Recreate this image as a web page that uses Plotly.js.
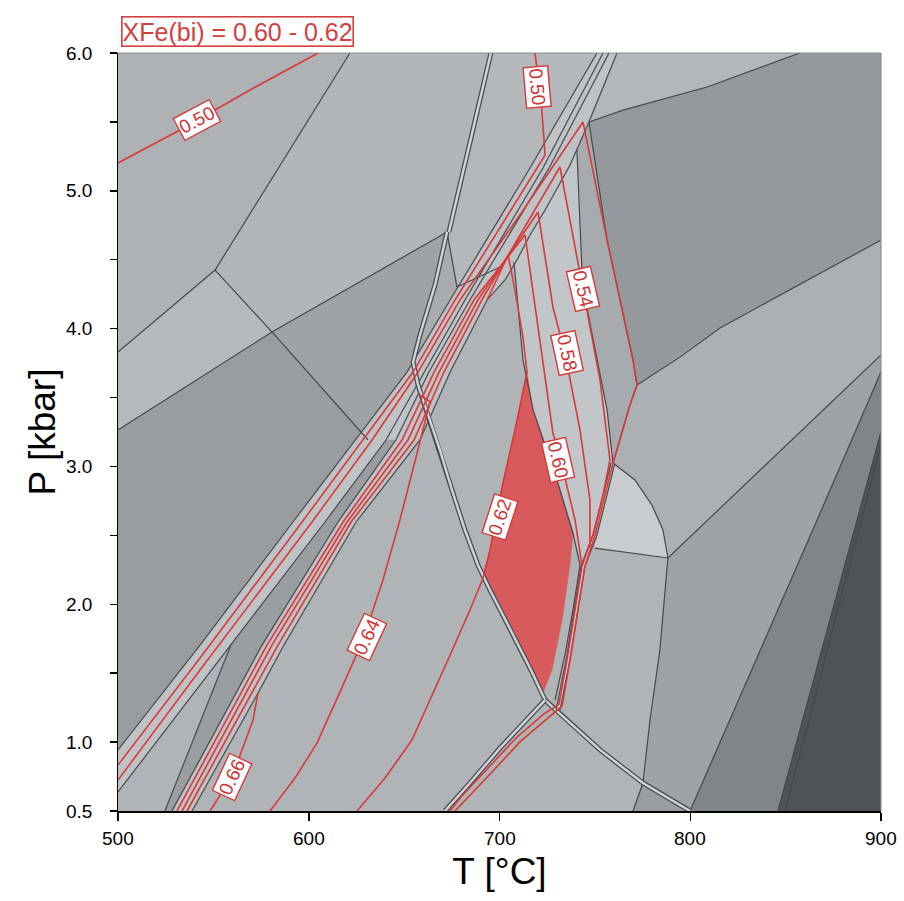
<!DOCTYPE html>
<html><head><meta charset="utf-8">
<script src="https://cdn.plot.ly/plotly-3.0.1.min.js"></script>
<style>html,body{margin:0;padding:0;background:#fff}#chart{width:904px;height:901px}</style>
</head><body><div id="chart"></div>
<script>
// ---------- field polygons (T in °C, P in kbar) ----------
const T_topLeft = [500, 621.6, 550.9, 500];            const P_topLeft = [6.0, 6.0, 4.425, 3.830];
const T_leftMid = [500, 550.9, 580.7, 500];            const P_leftMid = [3.830, 4.425, 3.976, 3.264];
const T_upperMid = [621.6, 695.5, 672.5, 580.7, 550.9]; const P_upperMid = [6, 6, 4.701, 3.976, 4.425];
const T_darkTri = [580.7, 672.5, 666.2, 658.3, 654.7, 651.5, 627.4]; const P_darkTri = [3.976, 4.701, 4.317, 3.954, 3.758, 3.685, 3.250];
const T_darkLeft = [500, 580.7, 627.4, 624.2, 591.7, 543.0, 500]; const P_darkLeft = [3.264, 3.976, 3.250, 3.192, 2.597, 1.704, 0.943];
const T_smallTri = [672.5, 678.3, 674.1, 654.7, 658.3, 666.2]; const P_smallTri = [4.701, 4.302, 4.208, 3.758, 3.954, 4.317];
const T_topMidRight = [695.5, 751.1, 716.0, 678.3, 672.5]; const P_topMidRight = [6, 6, 5.166, 4.302, 4.701];
const T_topRight = [761.6, 857.5, 808.8, 764.8, 746.9]; const P_topRight = [6, 6, 5.753, 5.586, 5.499];
const T_darkRight = [746.9, 764.8, 808.8, 857.5, 900, 900, 815.6, 794.6, 772.1, 770.0, 756.4];
const P_darkRight = [5.499, 5.586, 5.753, 6, 6, 4.643, 4.005, 3.794, 3.591, 3.772, 4.643];
const T_medStrip = [746.9, 756.4, 770.0, 772.1, 768.4, 759.5, 756.4, 746.4, 743.3, 740.6];
const P_medStrip = [5.499, 4.643, 3.772, 3.591, 3.446, 3.025, 3.410, 4.113, 4.389, 5.296];
const T_lightStrip = [740.6, 743.3, 746.4, 756.4, 759.5, 752.7, 743.8, 738.5, 730.1, 717.6, 712.3, 707.6, 716.0, 723.9, 737.0];
const P_lightStrip = [5.296, 4.389, 4.113, 3.410, 3.025, 2.684, 2.278, 2.517, 2.902, 3.410, 3.772, 4.484, 4.679, 4.861, 5.187];
const T_rightMid = [772.1, 815.6, 900, 900, 788.3, 785.7, 779.9, 771.0, 759.5, 768.4];
const P_rightMid = [3.591, 4.005, 4.643, 3.809, 2.336, 2.539, 2.720, 2.902, 3.025, 3.446];
const T_lightBlob = [759.5, 771.0, 779.9, 785.7, 788.3, 750.1, 752.7]; const P_lightBlob = [3.025, 2.902, 2.720, 2.539, 2.336, 2.408, 2.684];
const T_rightLower = [900, 788.3, 784.1, 778.9, 775.2, 799.9, 866.5, 900]; const P_rightLower = [3.809, 2.336, 1.668, 1.160, 0.703, 0.5, 2.611, 3.685];
const T_dark2 = [900, 866.5, 799.9, 846.0, 900]; const P_dark2 = [3.685, 2.611, 0.5, 0.5, 3.250];
const T_darkest = [900, 846.0, 900]; const P_darkest = [3.250, 0.5, 0.5];
const T_bottomSmall = [775.2, 799.9, 770.0]; const P_bottomSmall = [0.703, 0.5, 0.5];
const T_lightTri = [500, 559.2, 524.6, 500]; const P_lightTri = [0.638, 1.704, 0.5, 0.5];
// red field XFe(bi) = 0.60 - 0.62
const T_redFill = [714.4, 717.6, 730.1, 738.5, 736.9, 732.8, 727.5, 722.8, 717.1, 710.2, 702.9, 696.1, 691.4, 695.0, 701.8, 708.1];
const P_redFill = [3.685, 3.410, 2.902, 2.517, 2.285, 1.886, 1.523, 1.356, 1.523, 1.704, 1.908, 2.089, 2.212, 2.394, 2.880, 3.264];

// ---------- band boundaries ----------
const T_L1 = [500, 543.0, 591.7, 624.2, 651.5, 674.1, 716.0, 751.1]; const P_L1 = [0.943, 1.704, 2.597, 3.192, 3.685, 4.208, 5.166, 6.0];
const T_L4 = [500, 559.2, 608.5, 640.5, 660.4, 681.9, 722.8, 754.3]; const P_L4 = [0.638, 1.704, 2.597, 3.192, 3.685, 4.208, 5.166, 6.0];
const T_R1 = [528.3, 561.9, 575.5, 615.3, 645.7, 663.0, 684.5, 726.0, 757.4]; const P_R1 = [0.5, 1.356, 1.704, 2.597, 3.192, 3.685, 4.208, 5.166, 6.0];
const T_R5 = [538.8, 573.4, 587.0, 624.8, 658.3, 674.1, 693.5, 702.9, 709.7, 716.0, 723.9, 737.0, 746.9, 761.6];
const P_R5 = [0.5, 1.356, 1.704, 2.597, 3.192, 3.685, 4.208, 4.353, 4.513, 4.679, 4.861, 5.187, 5.499, 6.0];
const T_triLine = [559.2, 524.6]; const P_triLine = [1.704, 0.5];

// ---------- single field boundaries ----------
const T_A = [500, 550.9]; const P_A = [3.830, 4.425];
const T_B = [550.9, 621.6]; const P_B = [4.425, 6.0];
const T_C = [550.9, 580.7, 631.1]; const P_C = [4.425, 3.976, 3.192];
const T_D = [500, 580.7, 672.5]; const P_D = [3.264, 3.976, 4.701];
const T_F = [672.5, 677.7]; const P_F = [4.701, 4.302];
const T_topRightLine = [746.9, 764.8, 808.8, 857.5]; const P_topRightLine = [5.499, 5.586, 5.753, 6.0];
const T_xBorder = [746.9, 756.4, 770.0, 772.1]; const P_xBorder = [5.499, 4.643, 3.772, 3.591];
const T_darkRightLow = [772.1, 794.6, 815.6, 900]; const P_darkRightLow = [3.591, 3.794, 4.005, 4.643];
const T_S1 = [740.6, 743.3, 746.4, 756.4, 759.5]; const P_S1 = [5.296, 4.389, 4.113, 3.410, 3.025];
const T_S2 = [772.1, 768.4, 759.5]; const P_S2 = [3.591, 3.446, 3.025];
const T_blob = [759.5, 771.0, 779.9, 785.7, 788.3]; const P_blob = [3.025, 2.902, 2.720, 2.539, 2.336];
const T_blobBase = [750.1, 788.3]; const P_blobBase = [2.408, 2.336];
const T_vert = [788.3, 784.1, 778.9, 775.2, 770.0]; const P_vert = [2.336, 1.668, 1.160, 0.703, 0.5];
const T_Pl = [900, 788.3]; const P_Pl = [3.809, 2.336];
const T_Ql = [900, 866.5, 799.9]; const P_Ql = [3.685, 2.611, 0.5];
const T_Rl = [900, 846.0]; const P_Rl = [3.250, 0.5];
const T_Rl2 = [900, 849.7]; const P_Rl2 = [3.156, 0.5];
const T_stripLeft = [707.6, 712.3, 717.6, 730.1, 738.5, 742.2, 738.5, 734.3, 729.1];
const P_stripLeft = [4.484, 3.772, 3.410, 2.902, 2.517, 2.285, 1.958, 1.632, 1.305];
const T_apexLink = [677.7, 700.3]; const P_apexLink = [4.302, 4.447];

// ---------- double boundaries ----------
const T_E = [673.5, 695.5]; const P_E = [4.701, 6.0];
const T_G = [672.5, 666.2, 658.3, 654.7, 657.3, 662.5, 668.8, 675.1, 681.9, 688.7, 695.0, 701.8, 709.2, 716.5, 723.9];
const P_G = [4.701, 4.317, 3.954, 3.758, 3.591, 3.373, 3.119, 2.829, 2.539, 2.285, 2.104, 1.922, 1.726, 1.523, 1.305];
const T_Gright = [723.9, 731.7, 752.7, 775.2, 799.9]; const P_Gright = [1.305, 1.204, 0.943, 0.703, 0.5];
const T_Gleft = [723.9, 716.0, 700.3, 684.5, 671.4]; const P_Gleft = [1.305, 1.189, 0.957, 0.703, 0.5];
const T_stripRight = [759.5, 755.3, 750.1, 743.8, 740.1, 735.9, 730.7]; const P_stripRight = [3.025, 2.793, 2.503, 2.278, 1.958, 1.596, 1.233];

// ---------- XFe(bi) isopleths ----------
const T_iso050a = [500, 532.5, 569.2, 604.9]; const P_iso050a = [5.202, 5.441, 5.732, 6.0];
const T_iso050b = [500, 543.0, 596.5, 628.4, 654.7, 676.7, 719.7, 723.9, 721.8, 718.6];
const P_iso050b = [0.834, 1.610, 2.597, 3.192, 3.685, 4.208, 5.166, 5.260, 5.659, 6.0];
const T_iso052 = [500, 543.0, 601.7, 633.2, 657.3, 679.3, 710.7, 743.8, 756.4, 770.0, 772.1, 768.4, 759.5, 755.3, 750.1, 744.8, 741.2, 737.0, 732.8, 725.4, 710.7, 696.1, 681.9, 676.7];
const P_iso052 = [0.725, 1.523, 2.597, 3.192, 3.685, 4.208, 4.825, 5.499, 4.643, 3.772, 3.591, 3.446, 3.025, 2.793, 2.503, 2.278, 1.958, 1.596, 1.262, 1.175, 1.001, 0.783, 0.580, 0.5];
const T_iso054 = [536.2, 570.3, 583.9, 622.2, 655.2, 670.9, 690.8, 731.7, 743.8, 752.7, 757.9, 754.3, 749.0, 743.3, 739.6, 735.4, 731.2, 723.3, 708.7, 694.0, 679.3, 674.1];
const P_iso054 = [0.5, 1.356, 1.704, 2.597, 3.192, 3.685, 4.208, 5.173, 4.288, 3.627, 3.047, 2.793, 2.503, 2.278, 1.958, 1.596, 1.276, 1.204, 1.030, 0.812, 0.594, 0.5];
const T_iso058 = [533.6, 567.1, 580.7, 620.1, 652.0, 668.3, 688.7, 720.2, 728.0, 734.3, 742.2, 747.4, 747.4];
const P_iso058 = [0.5, 1.356, 1.704, 2.597, 3.192, 3.685, 4.208, 4.846, 4.157, 3.823, 3.264, 2.757, 2.408];
const T_iso060 = [530.9, 564.5, 578.1, 618.0, 648.9, 665.7, 686.6, 713.4, 728.0, 731.7, 739.6, 743.3];
const P_iso060 = [0.5, 1.356, 1.704, 2.597, 3.192, 3.685, 4.208, 4.679, 3.243, 3.069, 2.611, 2.278];
const T_iso062 = [693.5, 704.5, 708.1, 712.3, 714.4, 708.1, 701.8, 695.0, 691.4, 684.5, 674.1, 663.6, 654.1, 640.0, 625.3];
const P_iso062 = [4.208, 4.534, 4.280, 3.939, 3.685, 3.264, 2.880, 2.394, 2.191, 1.958, 1.632, 1.305, 1.015, 0.739, 0.5];
const T_iso064 = [658.3, 663.6, 655.2, 647.8, 638.9, 628.4, 616.4, 604.3, 592.8, 579.7];
const P_iso064 = [3.519, 3.468, 3.011, 2.611, 2.176, 1.741, 1.364, 0.993, 0.739, 0.5];
const T_iso066 = [573.4, 570.8, 559.8, 548.2]; const P_iso066 = [1.356, 1.160, 0.747, 0.5];

// ---------- isopleth labels ----------
const labelText = ['0.50', '0.50', '0.54', '0.58', '0.60', '0.62', '0.64', '0.66'];
const labelT = [541.4, 719.7, 743.8, 735.4, 730.7, 700.3, 630.5, 559.8];
const labelP = [5.514, 5.753, 4.288, 3.823, 3.047, 2.633, 1.762, 0.747];
const labelAngle = [-28, 85, 77, 78, 77, -72, -65, -65];

// ---------- ticks ----------
const xTicks = [500, 600, 700, 800, 900];
const xTickText = ['500', '600', '700', '800', '900'];
const yTicks = [0.5, 1, 1.5, 2, 2.5, 3, 3.5, 4, 4.5, 5, 5.5, 6];
const yLabelVals = [0.5, 1, 2, 3, 4, 5, 6];
const yLabelText = ['0.5', '1.0', '2.0', '3.0', '4.0', '5.0', '6.0'];

// ---------- build ----------
const GRAY = '#45494d', RED = '#d8393b', FONT = 'Arial, Liberation Sans, sans-serif';
const traces = [];
function poly(T, P, c) { traces.push({type: 'scatter', mode: 'lines', x: T, y: P, fill: 'toself', fillcolor: c, line: {width: 0.6, color: c}, hoverinfo: 'skip', showlegend: false}); }
function ln(T, P, c, w) { traces.push({type: 'scatter', mode: 'lines', x: T, y: P, line: {width: w, color: c}, hoverinfo: 'skip', showlegend: false}); }
function dbl(T, P) { ln(T, P, '#4a4e52', 5); ln(T, P, '#d2d5d8', 2.4); }

poly(T_topLeft, P_topLeft, '#afb2b5');
poly(T_leftMid, P_leftMid, '#b6b9bc');
poly(T_upperMid, P_upperMid, '#b3b6b9');
poly(T_darkTri, P_darkTri, '#a0a3a6');
poly(T_darkLeft, P_darkLeft, '#9a9da0');
poly(T_smallTri, P_smallTri, '#a9acaf');
poly(T_topMidRight, P_topMidRight, '#b5b8bb');
poly(T_topRight, P_topRight, '#b4b7ba');
poly(T_darkRight, P_darkRight, '#96999c');
poly(T_medStrip, P_medStrip, '#a8abae');
poly(T_lightStrip, P_lightStrip, '#c3c6c9');
poly(T_rightMid, P_rightMid, '#adb0b3');
poly(T_lightBlob, P_lightBlob, '#c9cccf');
poly(T_rightLower, P_rightLower, '#a0a3a6');
poly(T_dark2, P_dark2, '#828588');
poly(T_darkest, P_darkest, '#4f5256');
poly(T_bottomSmall, P_bottomSmall, '#9b9ea1');
// band
poly(T_L1.concat(T_R5.slice().reverse(), [500]), P_L1.concat(P_R5.slice().reverse(), [0.5]), '#c0c3c6');
poly(T_L4.slice(1, 4).concat(T_R1.slice(0, 5).reverse(), [T_triLine[1]]),
     P_L4.slice(1, 4).concat(P_R1.slice(0, 5).reverse(), [P_triLine[1]]), '#9b9ea1');
poly(T_lightTri, P_lightTri, '#b1b4b7');
poly(T_redFill, P_redFill, '#d95a5c');

// gray boundaries
[[T_A,P_A],[T_B,P_B],[T_C,P_C],[T_D,P_D],[T_F,P_F],[T_topRightLine,P_topRightLine],[T_xBorder,P_xBorder],
 [T_darkRightLow,P_darkRightLow],[T_S1,P_S1],[T_S2,P_S2],[T_blob,P_blob],[T_blobBase,P_blobBase],[T_vert,P_vert],
 [T_Pl,P_Pl],[T_Ql,P_Ql],[T_Rl,P_Rl],[T_Rl2,P_Rl2],[T_stripLeft,P_stripLeft],[T_apexLink,P_apexLink],
 [T_L1,P_L1],[T_L4,P_L4],[T_R1,P_R1],[T_R5,P_R5],[T_triLine,P_triLine]].forEach(d => ln(d[0], d[1], GRAY, 1.2));
// double boundaries
dbl(T_E, P_E); dbl(T_G, P_G); dbl(T_Gright, P_Gright); dbl(T_Gleft, P_Gleft); dbl(T_stripRight, P_stripRight);
// isopleths
[[T_iso050a,P_iso050a],[T_iso050b,P_iso050b],[T_iso052,P_iso052],[T_iso054,P_iso054],[T_iso058,P_iso058],
 [T_iso060,P_iso060],[T_iso062,P_iso062],[T_iso064,P_iso064],[T_iso066,P_iso066]].forEach(d => ln(d[0], d[1], RED, 1.6));

const annotations = labelText.map((t, i) => ({
  x: labelT[i], y: labelP[i], text: t, textangle: labelAngle[i], showarrow: false,
  font: {family: FONT, size: 19, color: '#cf3234'}, bgcolor: '#ffffff', bordercolor: '#d23a3c', borderwidth: 1.4, borderpad: 1
}));
annotations.push({xref: 'paper', yref: 'paper', x: 0.004, y: 1.008, xanchor: 'left', yanchor: 'bottom', showarrow: false,
  text: 'XFe(bi) = 0.60 - 0.62', font: {family: FONT, size: 25, color: '#d2403f'}, bgcolor: '#ffffff',
  bordercolor: '#d2403f', borderwidth: 1.6, borderpad: 0});
// tick labels
xTicks.forEach((v, i) => annotations.push({x: v, xref: 'x', y: -0.036, yref: 'paper', text: xTickText[i], showarrow: false,
  xanchor: 'center', yanchor: 'middle', font: {family: FONT, size: 19, color: '#000000'}}));
yLabelVals.forEach((v, i) => annotations.push({x: -0.031, xref: 'paper', y: v, yref: 'y', text: yLabelText[i], showarrow: false,
  xanchor: 'right', yanchor: 'middle', font: {family: FONT, size: 19, color: '#000000'}}));

const layout = {
  width: 904, height: 901, margin: {l: 118, r: 23, t: 53, b: 90},
  paper_bgcolor: '#ffffff', plot_bgcolor: '#b1b4b7', showlegend: false,
  font: {family: FONT, color: '#000000', size: 18},
  xaxis: {range: [500, 900], tickmode: 'array', tickvals: xTicks, showticklabels: false, ticks: 'outside', ticklen: 8, tickwidth: 1.5,
    tickcolor: '#000', showline: true, linecolor: '#000', linewidth: 1.5, showgrid: false, zeroline: false,
    title: {text: 'T [°C]', font: {size: 37, family: FONT}, standoff: 38}},
  yaxis: {range: [0.5, 6], tickmode: 'array', tickvals: yTicks, showticklabels: false, ticks: 'outside', ticklen: 7, tickwidth: 1.5,
    tickcolor: '#000', showline: true, linecolor: '#000', linewidth: 1.5, showgrid: false, zeroline: false,
    title: {text: 'P [kbar]', font: {size: 37, family: FONT}, standoff: 42}},
  shapes: [
    {type: 'line', xref: 'paper', yref: 'paper', x0: 0, x1: 1, y0: 1, y1: 1, line: {color: '#8a8d90', width: 1.2}},
    {type: 'line', xref: 'paper', yref: 'paper', x0: 1, x1: 1, y0: 0, y1: 1, line: {color: '#8a8d90', width: 1.2}}
  ],
  annotations: annotations
};
Plotly.newPlot('chart', traces, layout, {displayModeBar: false, staticPlot: true});
</script></body></html>
